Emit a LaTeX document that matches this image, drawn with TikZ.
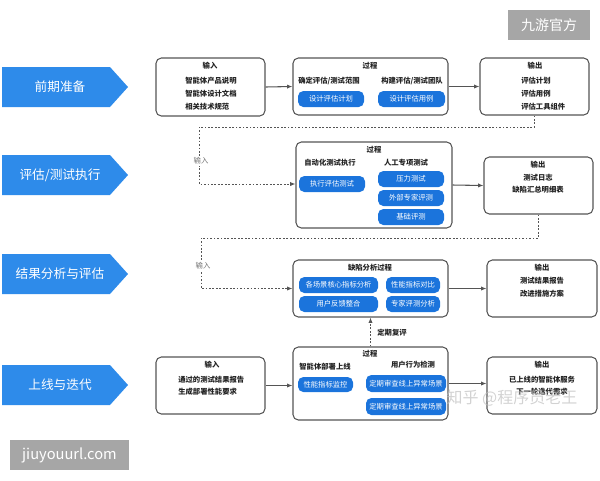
\documentclass[tikz,border=0pt]{standalone}
\usepackage{fontspec}
\setmainfont{Noto Sans CJK SC}
\usetikzlibrary{arrows.meta,fit}
\definecolor{chev}{HTML}{2E8BEA}
\definecolor{inb}{HTML}{1B74DC}
\definecolor{bord}{HTML}{555555}
\definecolor{wm}{HTML}{A6A6A6}
\definecolor{ink}{HTML}{222222}
\begin{document}
\begin{tikzpicture}[x=0.75pt,y=-0.75pt,
  frame/.style={draw=bord, line width=0.8pt, rounded corners=4pt, inner sep=0pt},
  bluebox/.style={fill=inb, rounded corners=4pt, inner sep=0pt},
  btxt/.style={text=white, inner sep=0pt, font=\fontsize{5.5}{6}\selectfont},
  txt/.style={text=ink, inner sep=0pt, font=\bfseries\fontsize{5.5}{9.75}\selectfont},
  chevtxt/.style={text=white, inner sep=0pt, font=\fontsize{9.5}{11}\selectfont},
  flow/.style={draw=bord, line width=0.8pt, -{Latex[length=4pt,width=3.2pt]}},
  dashflow/.style={draw=bord, line width=0.75pt, dash pattern=on 1.3pt off 1.3pt, -{Latex[length=4pt,width=3.2pt]}},
  lbl/.style={text=black!55, fill=white, inner sep=1pt, font=\fontsize{5.5}{6}\selectfont},
  wmbox/.style={fill=wm, inner sep=0pt},
  wmtxt/.style={text=white, inner sep=0pt}
]
\useasboundingbox (0,0) rectangle (600,480);
% stage chevrons
\fill[chev] (2,67) -- (110,67) -- (128,87) -- (110,107) -- (2,107) -- cycle;
\node[chevtxt] (s1) at (60,87) {前期准备};
\fill[chev] (2,155) -- (110,155) -- (128,175) -- (110,195) -- (2,195) -- cycle;
\node[chevtxt] (s2) at (60,175) {评估/测试执行};
\fill[chev] (2,254) -- (110,254) -- (128,274) -- (110,294) -- (2,294) -- cycle;
\node[chevtxt] (s3) at (60,274) {结果分析与评估};
\fill[chev] (2,365) -- (110,365) -- (128,385) -- (110,405) -- (2,405) -- cycle;
\node[chevtxt] (s4) at (60,385) {上线与迭代};
% frames
\node[frame, fit={(156,58)(265,116)}] (in1) {};
\node[frame, fit={(293,58)(448,115)}] (p1) {};
\node[frame, fit={(480,58)(589,115)}] (out1) {};
\node[frame, fit={(296,142)(452,228)}] (p2) {};
\node[frame, fit={(484,157)(593,214)}] (out2) {};
\node[frame, fit={(293,260)(448,317)}] (p3) {};
\node[frame, fit={(487,260)(597,317)}] (out3) {};
\node[frame, fit={(156,357)(265,414)}] (in4) {};
\node[frame, fit={(293,347)(448,420)}] (p4) {};
\node[frame, fit={(487,357)(597,414)}] (out4) {};
% blue boxes
\node[bluebox, fit={(298,91)(364,107)}] (b11) {};
\node[btxt] (b11t) at (b11.center) {设计评估计划};
\node[bluebox, fit={(378,91)(445,107)}] (b12) {};
\node[btxt] (b12t) at (b12.center) {设计评估用例};
\node[bluebox, fit={(299,176)(365,192)}] (b21) {};
\node[btxt] (b21t) at (b21.center) {执行评估测试};
\node[bluebox, fit={(378,171)(444,187)}] (b22) {};
\node[btxt] (b22t) at (b22.center) {压力测试};
\node[bluebox, fit={(378,190)(444,206)}] (b23) {};
\node[btxt] (b23t) at (b23.center) {外部专家评测};
\node[bluebox, fit={(378,209)(444,225)}] (b24) {};
\node[btxt] (b24t) at (b24.center) {基础评测};
\node[bluebox, fit={(299,277)(378,293)}] (b31) {};
\node[btxt] (b31t) at (b31.center) {各场景核心指标分析};
\node[bluebox, fit={(386,277)(440,293)}] (b32) {};
\node[btxt] (b32t) at (b32.center) {性能指标对比};
\node[bluebox, fit={(299,296)(378,312)}] (b33) {};
\node[btxt] (b33t) at (b33.center) {用户反馈整合};
\node[bluebox, fit={(386,296)(440,312)}] (b34) {};
\node[btxt] (b34t) at (b34.center) {专家评测分析};
\node[bluebox, fit={(298,377)(353,392)}] (b41) {};
\node[btxt] (b41t) at (b41.center) {性能指标监控};
\node[bluebox, fit={(366,375)(446,392)}] (b42) {};
\node[btxt] (b42t) at (b42.center) {定期审查线上异常场景};
\node[bluebox, fit={(366,398)(446,415)}] (b43) {};
\node[btxt] (b43t) at (b43.center) {定期审查线上异常场景};
% row 1 texts
\node[txt] (t1a) at (210,66) {输入};
\node[txt, anchor=west, align=left] (t1b) at (185,94) {智能体产品说明\\智能体设计文档\\相关技术规范};
\node[txt] (t1c) at (370,66) {过程};
\node[txt] (t1d) at (329,81) {确定评估/测试范围};
\node[txt] (t1e) at (412,81) {构建评估/测试团队};
\node[txt] (t1f) at (535,66) {输出};
\node[txt, anchor=west, align=left] (t1g) at (521,94) {评估计划\\评估用例\\评估工具组件};
% row 2 texts
\node[txt] (t2a) at (374,150) {过程};
\node[txt] (t2b) at (330,163) {自动化测试执行};
\node[txt] (t2c) at (406,163) {人工专项测试};
\node[txt] (t2d) at (538,165) {输出};
\node[txt, align=center, font=\bfseries\fontsize{5.5}{9}\selectfont] (t2e) at (538,184) {测试日志\\缺陷汇总明细表};
% row 3 texts
\node[txt] (t3a) at (370,268) {缺陷分析过程};
\node[txt] (t3b) at (542,268) {输出};
\node[txt, align=center] (t3c) at (542,287.5) {测试结果报告\\改进措施方案};
% row 4 texts
\node[txt] (t4a) at (212,365) {输入};
\node[txt, anchor=west, align=left, font=\bfseries\fontsize{5.5}{9}\selectfont] (t4b) at (178,386) {通过的测试结果报告\\生成部署性能要求};
\node[txt] (t4c) at (370,354) {过程};
\node[txt] (t4d) at (325,367) {智能体部署上线};
\node[txt] (t4e) at (413,365) {用户行为检测};
\node[txt] (t4f) at (542,365) {输出};
\node[txt, align=center, font=\bfseries\fontsize{5.5}{9}\selectfont] (t4g) at (542,386) {已上线的智能体服务\\下一轮迭代需求};
% solid connectors
\draw[flow] (in1.east) -- (p1.west);
\draw[flow] (p1.east) -- (out1.west);
\draw[flow] (p2.east) -- (out2.west);
\draw[flow] (p3.east) -- (out3.west);
\draw[flow] (in4.east) -- (in4.east -| p4.west);
\draw[flow] (p4.east) -- (p4.east -| out4.west);
% dashed connectors
\coordinate (k1) at (199,127);
\coordinate (k2) at (199,184);
\draw[dashflow] (out1.south) |- (k1) -- (k2) -- (k2 -| p2.west);
\node[lbl] (l1) at (201,161) {输入};
\coordinate (k3) at (201,238);
\coordinate (k4) at (201,288.5);
\draw[dashflow] (out2.south) |- (k3) -- (k4) -- (p3.west);
\node[lbl] (l2) at (203,266) {输入};
\draw[dashflow] (p4.north) -- (p3.south);
\node[txt] (l3) at (392,333) {定期复评};
% watermarks
\node[wmbox, fit={(508,10)(590,40)}] (w1) {};
\node[wmtxt, font=\fontsize{10.5}{12}\selectfont] (w1t) at (w1.center) {九游官方};
\node[wmbox, fit={(10,440)(129,470)}] (w2) {};
\node[wmtxt, font=\fontsize{11}{12}\selectfont] (w2t) at (w2.center) {jiuyouurl.com};
\node[text=gray!50, opacity=0.7, inner sep=0pt, font=\fontsize{12}{13}\selectfont] (w3) at (512,398) {知乎 @程序员老王};
\end{tikzpicture}
\end{document}
